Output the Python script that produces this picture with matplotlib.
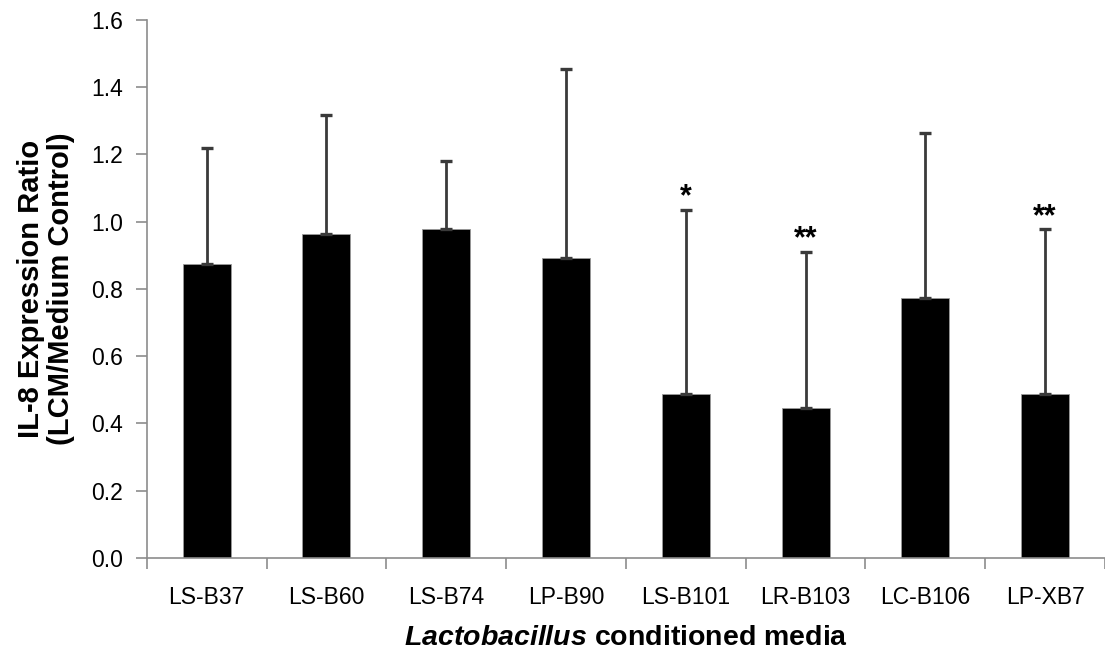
import matplotlib
matplotlib.use("Agg")
import matplotlib.pyplot as plt
import numpy as np

# Lactobacillus conditioned media strains
strains = ["LS-B37", "LS-B60", "LS-B74", "LP-B90", "LS-B101", "LR-B103", "LC-B106", "LP-XB7"]
# IL-8 expression ratio (mean) and upper limit of the error bar
ratio = [0.873, 0.964, 0.978, 0.892, 0.489, 0.446, 0.774, 0.489]
upper = [1.219, 1.317, 1.181, 1.453, 1.036, 0.911, 1.264, 0.978]
# significance markers
marks = ["", "", "", "", "*", "**", "", "**"]

plt.rcParams["font.family"] = ["Liberation Sans", "DejaVu Sans"]
plt.rcParams["mathtext.fontset"] = "custom"
plt.rcParams["mathtext.rm"] = "Liberation Sans"
plt.rcParams["mathtext.bf"] = "Liberation Sans:bold"
plt.rcParams["mathtext.it"] = "Liberation Sans:italic"
plt.rcParams["mathtext.bfit"] = "Liberation Sans:italic:bold"

fig = plt.figure(figsize=(11.05, 6.59), dpi=100)
ax = fig.add_axes([0.1328, 0.1533, 0.8672, 0.8164])

x = np.arange(len(strains))
err_up = np.array(upper) - np.array(ratio)
ax.bar(x, ratio, width=0.4, color="black", edgecolor="#9a9a9a", linewidth=0.6, zorder=2)
ax.errorbar(x, ratio, yerr=[np.zeros(len(x)), err_up], fmt="none",
            ecolor="#3a3a3a", elinewidth=2.0, capsize=4, capthick=2.4, zorder=3)

for xi, top, m in zip(x, upper, marks):
    if m:
        ax.annotate(m, (xi, top), xytext=(0, 3), textcoords="offset points",
                    ha="center", va="baseline", fontsize=22, fontweight="bold")

ax.set_xlim(-0.5, 7.5)
ax.set_ylim(0, 1.6)
ax.set_yticks(np.arange(0, 1.61, 0.2))
ax.set_yticklabels([f"{v:.1f}" for v in np.arange(0, 1.61, 0.2)], fontsize=16.5)
ax.set_xticks(x)
ax.set_xticklabels(strains, fontsize=16.5)
ax.set_xticks(np.arange(-0.5, 7.6, 1.0), minor=True)
ax.tick_params(axis="x", which="major", length=0, pad=20)
ax.tick_params(axis="x", which="minor", length=8, width=1.2, color="#8c8c8c", direction="out")
ax.tick_params(axis="y", length=8, width=1.2, color="#8c8c8c", direction="out", pad=9)

for s in ["top", "right"]:
    ax.spines[s].set_visible(False)
for s in ["left", "bottom"]:
    ax.spines[s].set_color("#8c8c8c")
    ax.spines[s].set_linewidth(1.2)
ax.spines["left"].set_bounds(0, 1.6)

ax.set_ylabel("IL-8 Expression Ratio\n(LCM/Medium Control)", fontsize=21,
              fontweight="bold", linespacing=1.05, labelpad=12)
ax.set_xlabel(r"$\bfit{Lactobacillus}$ conditioned media", fontsize=20.5,
              fontweight="bold", labelpad=12)

fig.savefig("out.png", dpi=100)
